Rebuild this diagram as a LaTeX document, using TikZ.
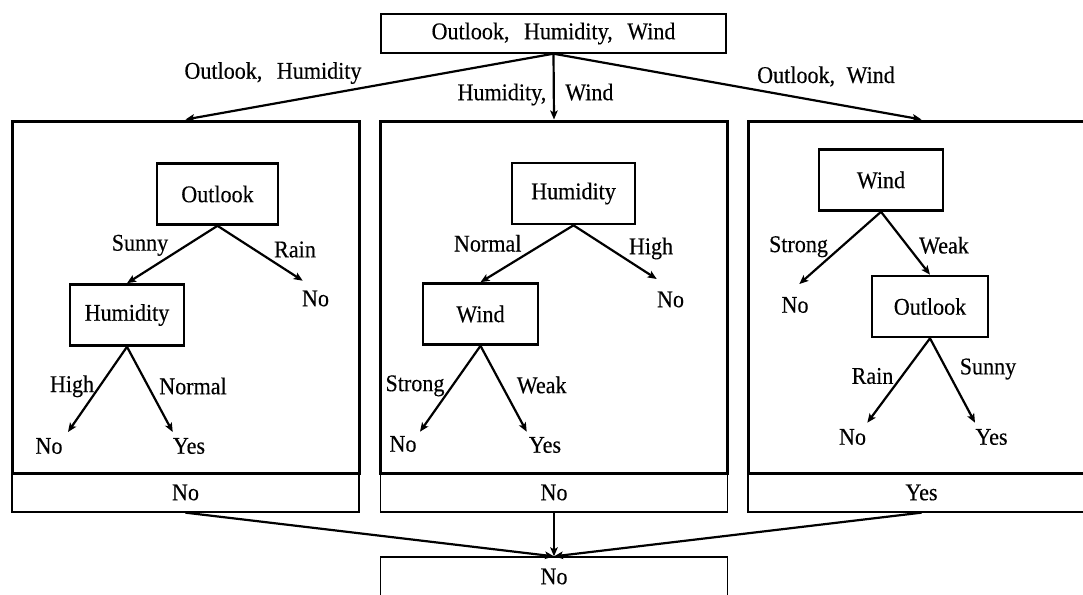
\documentclass[tikz,border=0pt]{standalone}
\usepackage{fontspec}
\setmainfont{Liberation Serif}[FakeStretch=0.92,FakeBold=0.3]
\usetikzlibrary{arrows.meta}

\begin{document}
\begin{tikzpicture}[x=1pt,y=-1pt,
  every node/.style={font=\fontsize{24}{28}\selectfont},
  plain/.style={inner sep=0pt},
  headbox/.style={draw, line width=1.4pt, inner sep=0pt, minimum width=345pt, minimum height=39pt},
  panel/.style={draw, line width=3pt, inner sep=0pt, minimum width=347pt, minimum height=352pt},
  result/.style={draw, line width=1.3pt, inner sep=0pt, minimum width=347pt, minimum height=39pt},
  attr/.style={draw, line width=2.6pt, inner sep=0pt, minimum height=61pt},
  link/.style={line width=2.2pt, -{Stealth[length=9pt,width=7.5pt,inset=2pt]}},
]
\useasboundingbox (0,0) rectangle (1083,594);

% feature set at the top
\node[headbox] (top) at (553.5,33.5) {Outlook,\hspace{9pt} Humidity,\hspace{9pt} Wind};

% three sub-trees and their votes
\node[result] (rA) at (185.5,492.5) {No};
\node[result] (rB) at (554,492.5) {No};
\node[result] (rC) at (921.5,492.5) {Yes};
\node[panel] (pA) at (185.5,297) {};
\node[panel] (pB) at (554,297) {};
\node[panel] (pC) at (921.5,297) {};

% combined vote
\node[result] (fin) at (554,576.5) {No};

% feature subsets
\draw[link] (top.south) -- (pA.north);
\draw[link] (top.south) -- (pB.north);
\draw[link] (top.south) -- (pC.north);
\node[plain] (sA) at (273,73) {Outlook,\hspace{9pt} Humidity};
\node[plain] (sB) at (535.5,94.5) {Humidity,\hspace{19pt}Wind};
\node[plain] (sC) at (826,76.5) {Outlook,\hspace{6pt} Wind};

% votes into the final decision
\draw[link] (rA.south) -- (fin.north);
\draw[link] (rB.south) -- (fin.north);
\draw[link] (rC.south) -- (fin.north);

% ---- tree A
\node[attr, minimum width=121pt] (oA) at (217.5,194) {Outlook};
\node[attr, minimum width=114pt] (hA) at (127,315) {Humidity};
\node[plain] (lA1) at (315.5,298.5) {No};
\node[plain] (lA2) at (49,446) {No};
\node[plain] (lA3) at (189,446) {Yes};
\draw[link] (oA.south) -- (hA.north);
\draw[link] (oA.south) -- ([shift={(-12.8,-17.8)}]lA1.center);
\draw[link] (hA.south) -- ([shift={(19,-14)}]lA2.center);
\draw[link] (hA.south) -- ([shift={(-16.3,-14)}]lA3.center);
\node[plain] (eA1) at (140,245.3) {Sunny};
\node[plain] (eA2) at (295,249.5) {Rain};
\node[plain] (eA3) at (72,386.3) {High};
\node[plain] (eA4) at (193,386) {Normal};

% ---- tree B
\node[attr, minimum width=123pt] (hB) at (573.5,193.5) {Humidity};
\node[attr, minimum width=115pt] (wB) at (480.5,314) {Wind};
\node[plain] (lB1) at (670.5,299.5) {No};
\node[plain] (lB2) at (403,444) {No};
\node[plain] (lB3) at (545,445) {Yes};
\draw[link] (hB.south) -- (wB.north);
\draw[link] (hB.south) -- ([shift={(-13.8,-20.5)}]lB1.center);
\draw[link] (wB.south) -- ([shift={(17,-12.3)}]lB2.center);
\draw[link] (wB.south) -- ([shift={(-18.3,-13.3)}]lB3.center);
\node[plain] (eB1) at (487.7,243.3) {Normal};
\node[plain] (eB2) at (651,248.5) {High};
\node[plain] (eB3) at (415,385.8) {Strong};
\node[plain] (eB4) at (541.7,385) {Weak};

% ---- tree C
\node[attr, minimum width=124pt] (wC) at (881,180) {Wind};
\node[attr, minimum width=116pt] (oC) at (930,306.5) {Outlook};
\node[plain] (lC1) at (795,305) {No};
\node[plain] (lC2) at (852.5,437) {No};
\node[plain] (lC3) at (991.5,437) {Yes};
\draw[link] (wC.south) -- ([shift={(4.3,-21)}]lC1.center);
\draw[link] (wC.south) -- (oC.north);
\draw[link] (oC.south) -- ([shift={(14.8,-14.3)}]lC2.center);
\draw[link] (oC.south) -- ([shift={(-16.5,-14.3)}]lC3.center);
\node[plain] (eC1) at (798.5,246.7) {Strong};
\node[plain] (eC2) at (944,245.3) {Weak};
\node[plain] (eC3) at (872.5,376) {Rain};
\node[plain] (eC4) at (988,369) {Sunny};
\end{tikzpicture}
\end{document}
